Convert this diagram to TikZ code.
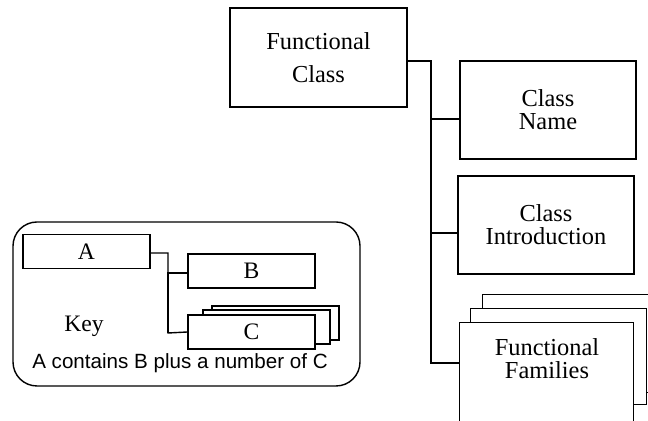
\documentclass[tikz,border=0pt]{standalone}
\usepackage{fontspec}
\setmainfont{Liberation Serif}
\setsansfont{Liberation Sans}
\tikzset{% boxes and lines
    box/.style={draw, line width=.7pt, fill=white, align=center, inner sep=0pt,
        minimum width=88pt, minimum height=49pt,
        font=\fontsize{12.2}{11.6}\selectfont},
    keybox/.style={draw, line width=.7pt, fill=white, inner sep=0pt,
        minimum width=63.5pt, minimum height=17pt,
        font=\fontsize{11.8}{14}\selectfont},
    link/.style={draw, line width=.7pt}
}

\begin{document}
\begin{tikzpicture}[x=.5pt,y=-.5pt]
    		\useasboundingbox (0,0) rectangle (648,421);
    		\clip (0,0) rectangle (648,421);
    	
    		% key
    		\node[draw, line width=.7pt, rounded corners=12pt, minimum width=173.5pt, minimum height=82pt] (frame) at (186.5,304) {};
    		\node[keybox] (a) at (86.5,251.5) {A};
    		\node[keybox] (b) at (251.5,271) {B};
    		\node[keybox] (cback) at (275.5,323) {};
    		\node[keybox] (cmid) at (266.5,327) {};
    		\node[keybox] (c) at (251.5,332) {C};
    		\node[anchor=base, font=\fontsize{11.8}{14}\selectfont] (keyname) at (84,332) {Key};
    		\node[anchor=base, font=\sffamily\fontsize{10.3}{12}\selectfont] (caption) at (180,369) {A contains B plus a number of C};
    	
    		\coordinate (keybus) at (168,333);
    		\draw[link] ([yshift=-.75pt]a.east) -| (keybus) -- (c.west);
    		\draw[link] ([yshift=-1pt]b.west) -| (keybus);
    	
    		% class
    		\node[box, minimum width=88.5pt, minimum height=49.5pt, font=\fontsize{12.2}{16.5}\selectfont] (fclass) at (318.5,57.5) {Functional\\Class};
    		\node[box] (cname) at (548,110) {Class\\Name};
    		\node[box] (cintro) at (546,225) {Class\\Introduction};
    	
    		% families
    		\node[box, anchor=north west, minimum width=89pt] (famback) at (482,294) {};
    		\node[box, anchor=north west, minimum height=48pt] (fammid) at (470,308) {};
    		\node[box, anchor=north west, minimum width=87pt, minimum height=60pt] (fam) at (459,322) {};
    		\node[anchor=north, align=center, inner sep=0pt, font=\fontsize{12.2}{11.6}\selectfont] (famname) at (547,338) {Functional\\Families};
    	
    		\coordinate (bus) at (431,363);
    		\draw[link] ([yshift=-1.75pt]fclass.east) -| (bus) -- ([yshift=-20.5pt]fam.north west);
    		\draw[link] ([yshift=-4.5pt]cname.west) -| (bus);
    		\draw[link] ([yshift=-4pt]cintro.west) -| (bus);
    	
\end{tikzpicture}
\end{document}
